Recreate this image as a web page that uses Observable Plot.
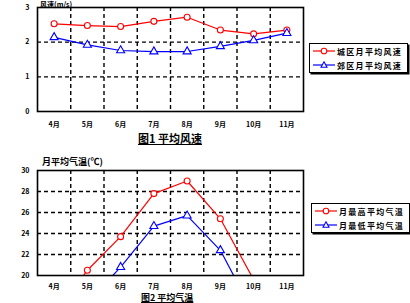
<!DOCTYPE html>
<html><head><meta charset="utf-8">
<script src="https://cdn.jsdelivr.net/npm/d3@7"></script>
<script src="https://cdn.jsdelivr.net/npm/@observablehq/plot@0.6"></script>
<style>
body{margin:0;background:#fff;font-family:"Noto Sans CJK SC",sans-serif;}
#wrap{position:relative;width:410px;height:303px;overflow:hidden;background:#fff;}
.abs{position:absolute;white-space:nowrap;line-height:1.15;color:#000;font-weight:bold;}
.legend{position:absolute;border:1px solid #000;box-shadow:1.5px 1.5px 0 #000;background:#fff;}
.row{display:flex;align-items:center;height:14px;padding-left:3px;}
.row span{font-size:8px;font-weight:bold;letter-spacing:1.3px;margin-left:2px;}
svg{position:absolute;left:0;}
</style></head><body><div id="wrap"></div>
<script>
const months = ["4月","5月","6月","7月","8月","9月","10月","11月"];
const windSeries = ["城区月平均风速","郊区月平均风速"];
const windA = [2.53,2.48,2.45,2.60,2.72,2.35,2.24,2.35];
const windB = [2.14,1.92,1.76,1.73,1.73,1.88,2.05,2.26];
const windTicks = [0,1,2,3];
const tempSeries = ["月最高平均气温","月最低平均气温"];
const tempHigh = [16.2,20.5,23.7,27.8,29.0,25.4,19.6,null];
const tempLow = [null,17.4,20.8,24.7,25.7,22.4,16.4,null];
const tempTicks = [20,22,24,26,28,30];

const wrap = document.getElementById("wrap");
const idx = months.map((m,i)=>i);
const bounds = idx.slice(1).map(i=>i-0.5);
const colors = ["#ff0000","#0000ff"];
const symbols = ["circle","triangle"];

function chart(a, b, yTicks, top, height, mTop, mBottom, pad) {
  const rows = [];
  [a,b].forEach((arr,s)=>arr.forEach((v,i)=>{ if (v!=null) rows.push({i, v, s}); }));
  const lo = yTicks[0], hi = yTicks[yTicks.length-1];
  const p = Plot.plot({
    width: 410, height,
    marginLeft: 37, marginRight: 107, marginTop: mTop, marginBottom: mBottom,
    style: {fontFamily: "'Noto Sans CJK SC', sans-serif", fontSize: "7px", fontWeight: "bold", color: "#000", background: "transparent"},
    x: {domain: [-0.5, months.length-0.5], label: null},
    y: {domain: [lo, hi], label: null},
    marks: [
      Plot.ruleX(bounds, {x: d=>d, stroke: "#000", strokeWidth: 1.4, strokeDasharray: "4,3"}),
      Plot.ruleY(yTicks.slice(1,-1), {y: d=>d, stroke: "#000", strokeWidth: 1.4, strokeDasharray: "4,3"}),
      Plot.line(rows, {x: "i", y: "v", z: "s", stroke: d=>colors[d.s], strokeWidth: 1.2, clip: true}),
      Plot.dot(rows, {x: "i", y: "v", symbol: d=>symbols[d.s], stroke: d=>colors[d.s], fill: "#fff", r: 3, strokeWidth: 1.1, clip: true}),
      Plot.frame({stroke: "#000", strokeWidth: 1.6}),
      Plot.axisX({ticks: idx, tickFormat: i=>months[i], tickSize: 0, tickPadding: pad, fontSize: 7, fontWeight: "bold", label: null}),
      Plot.axisY({ticks: yTicks, tickFormat: d=>String(d), tickSize: 0, tickPadding: 8, fontSize: 7, fontWeight: "bold", label: null})
    ]
  });
  p.style.top = top + "px";
  wrap.appendChild(p);
}

function text(str, x, y, size, extra) {
  const d = document.createElement("div");
  d.className = "abs";
  d.textContent = str;
  d.style.left = x + "px"; d.style.top = y + "px"; d.style.fontSize = size + "px";
  if (extra) Object.assign(d.style, extra);
  wrap.appendChild(d);
}

function legend(names, x, y) {
  const L = document.createElement("div");
  L.className = "legend";
  L.style.left = x + "px"; L.style.top = y + "px"; L.style.width = "97px";
  names.forEach((n,s)=>{
    const r = document.createElement("div");
    r.className = "row";
    r.innerHTML = `<svg width="22" height="10" style="position:static"><line x1="0" y1="5" x2="22" y2="5" stroke="${colors[s]}" stroke-width="1.2"/>` +
      (s===0 ? `<circle cx="11" cy="5" r="2.8" fill="#fff" stroke="${colors[s]}" stroke-width="1.1"/>` : `<path d="M11,1.8 L14,7.3 L8,7.3 Z" fill="#fff" stroke="${colors[s]}" stroke-width="1.1"/>`) +
      `</svg><span>${n}</span>`;
    L.appendChild(r);
  });
  wrap.appendChild(L);
}

chart(windA, windB, windTicks, 0, 130, 7, 19, 11);
chart(tempHigh, tempLow, tempTicks, 150, 145, 20, 20, 9);

text("风速(m/s)", 40, 0, 7);
text("图1  平均风速", 138, 132, 11, {textDecoration: "underline"});
text("月平均气温(℃)", 42, 157, 9);
text("图2  平均气温", 141, 293, 9, {textDecoration: "underline"});
legend(windSeries, 309, 43);
legend(tempSeries, 311, 203);
</script></body></html>
